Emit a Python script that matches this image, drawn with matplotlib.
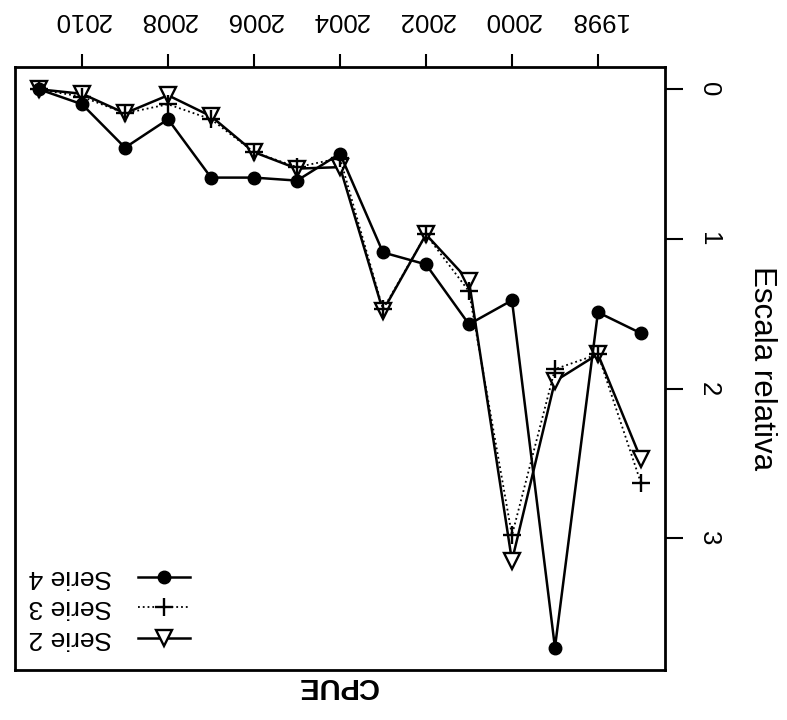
import matplotlib
matplotlib.use("Agg")
import matplotlib.pyplot as plt
from matplotlib.lines import Line2D

plt.rcParams['font.family'] = ['Liberation Sans', 'DejaVu Sans']

years = [1997, 1998, 1999, 2000, 2001, 2002, 2003, 2004, 2005, 2006, 2007, 2008, 2009, 2010, 2011]
serie2 = [2.47, 1.77, 1.95, 3.15, 1.28, 0.97, 1.48, 0.52, 0.53, 0.42, 0.18, 0.04, 0.16, 0.03, 0.0]
serie3 = [2.63, 1.77, 1.87, 2.98, 1.35, 0.97, 1.47, 0.46, 0.52, 0.42, 0.20, 0.10, 0.16, 0.05, 0.0]
serie4 = [1.63, 1.49, 3.73, 1.41, 1.57, 1.17, 1.09, 0.43, 0.61, 0.59, 0.59, 0.20, 0.39, 0.10, 0.0]
year_ticks = [1998, 2000, 2002, 2004, 2006, 2008, 2010]
y_ticks = [0, 1, 2, 3]
title = "CPUE"
ylabel = "Escala relativa"
legend_labels = ["Serie 4", "Serie 3", "Serie 2"]

W, H = 787, 720
fig = plt.figure(figsize=(W / 100, H / 100), dpi=100)
ax = fig.add_axes([15 / W, 1 - 670 / H, (665 - 15) / W, (670 - 67) / H])

ax.plot(years, serie2, color='black', lw=1.8, marker='v', markersize=11.5,
        markerfacecolor='white', markeredgecolor='black', markeredgewidth=1.7, zorder=3)
ax.plot(years, serie3, color='black', lw=1.3, ls=':', marker='+', markersize=13,
        markeredgewidth=1.7, zorder=4)
ax.plot(years, serie4, color='black', lw=1.8, marker='o', markersize=9,
        markerfacecolor='black', markeredgecolor='black', zorder=5)

ax.set_xlim(2011.56, 1996.44)
ax.set_ylim(3.88, -0.149)

ax.xaxis.tick_top()
ax.set_xticks(year_ticks)
ax.set_xticklabels([str(y) for y in year_ticks])
ax.tick_params(axis='x', direction='out', length=9.5, width=1.5, pad=16,
               labelsize=18.5, labelrotation=180)

ax.yaxis.tick_right()
ax.set_yticks(y_ticks)
ax.set_yticklabels([str(v) for v in y_ticks])
ax.tick_params(axis='y', direction='out', length=13, width=1.5, pad=10,
               labelsize=18.5, labelrotation=270)
for lab in ax.get_yticklabels():
    lab.set_verticalalignment('center')

for sp in ax.spines.values():
    sp.set_linewidth(2)
    sp.set_color('black')

fig.text(762 / W, 1 - 368 / H, ylabel, rotation=270, ha='center', va='center', fontsize=22.5)
fig.text(337 / W, 1 - 686 / H, title, rotation=180, ha='center', va='center',
         fontsize=21, fontweight='bold')

# legend (drawn manually, rotated view)
leg_y = [577, 607, 638]
line_styles = [
    dict(ls='-', lw=1.8),
    dict(ls=':', lw=1.3),
    dict(ls='-', lw=1.8),
]
marker_styles = [
    dict(marker='o', markersize=9, markerfacecolor='black', markeredgecolor='black'),
    dict(marker='+', markersize=13, markeredgewidth=1.7),
    dict(marker='v', markersize=11.5, markerfacecolor='white', markeredgecolor='black',
         markeredgewidth=1.7),
]
for yy, lab, ls_, mk in zip(leg_y, legend_labels, line_styles, marker_styles):
    yf = 1 - yy / H
    fig.add_artist(Line2D([138 / W, 190 / W], [yf, yf], transform=fig.transFigure,
                          color='black', **ls_))
    fig.add_artist(Line2D([164 / W], [yf], transform=fig.transFigure, ls='none',
                          color='black', **mk))
    fig.text(70 / W, yf, lab, rotation=180, ha='center', va='center', fontsize=19)

fig.savefig("out.png", dpi=100)
